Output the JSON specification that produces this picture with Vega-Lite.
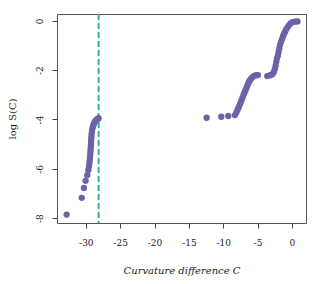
{
  "$schema": "https://vega.github.io/schema/vega-lite/v6.json",
  "width": 249,
  "height": 209,
  "autosize": {"type": "none"},
  "padding": {"left": 57, "top": 14, "right": 7, "bottom": 61},
  "background": "white",
  "config": {
    "view": {"stroke": "#555555", "strokeWidth": 1},
    "font": "DejaVu Serif"
  },
  "datasets": {
    "pts": [
      {"C": -32.8, "logS": -7.86}, {"C": -30.6, "logS": -7.18}, {"C": -30.28, "logS": -6.78},
      {"C": -30.03, "logS": -6.49}, {"C": -29.8, "logS": -6.26}, {"C": -29.65, "logS": -6.06},
      {"C": -29.55, "logS": -5.92}, {"C": -29.5, "logS": -5.8}, {"C": -29.45, "logS": -5.68},
      {"C": -29.4, "logS": -5.55}, {"C": -29.36, "logS": -5.42}, {"C": -29.33, "logS": -5.3},
      {"C": -29.3, "logS": -5.18}, {"C": -29.27, "logS": -5.05}, {"C": -29.25, "logS": -4.93},
      {"C": -29.22, "logS": -4.8}, {"C": -29.19, "logS": -4.68}, {"C": -29.15, "logS": -4.56},
      {"C": -29.1, "logS": -4.45}, {"C": -29.03, "logS": -4.35}, {"C": -28.95, "logS": -4.27},
      {"C": -28.85, "logS": -4.18}, {"C": -28.75, "logS": -4.12}, {"C": -28.6, "logS": -4.06},
      {"C": -28.45, "logS": -4.02}, {"C": -28.3, "logS": -3.98}, {"C": -28.15, "logS": -3.95},
      {"C": -12.42, "logS": -3.93}, {"C": -10.29, "logS": -3.89}, {"C": -9.27, "logS": -3.86},
      {"C": -8.3, "logS": -3.82}, {"C": -8.1, "logS": -3.72}, {"C": -7.95, "logS": -3.62},
      {"C": -7.8, "logS": -3.53}, {"C": -7.65, "logS": -3.43}, {"C": -7.5, "logS": -3.33},
      {"C": -7.35, "logS": -3.22}, {"C": -7.2, "logS": -3.12}, {"C": -7.05, "logS": -3.0},
      {"C": -6.9, "logS": -2.9}, {"C": -6.75, "logS": -2.8}, {"C": -6.6, "logS": -2.7},
      {"C": -6.45, "logS": -2.6}, {"C": -6.3, "logS": -2.5}, {"C": -6.15, "logS": -2.42},
      {"C": -6.0, "logS": -2.36}, {"C": -5.8, "logS": -2.3}, {"C": -5.6, "logS": -2.25},
      {"C": -5.4, "logS": -2.22}, {"C": -5.15, "logS": -2.2}, {"C": -4.95, "logS": -2.2},
      {"C": -3.6, "logS": -2.24}, {"C": -3.35, "logS": -2.22}, {"C": -3.1, "logS": -2.2},
      {"C": -2.85, "logS": -2.16}, {"C": -2.65, "logS": -2.08}, {"C": -2.5, "logS": -1.96},
      {"C": -2.38, "logS": -1.82}, {"C": -2.28, "logS": -1.66}, {"C": -2.18, "logS": -1.52},
      {"C": -2.05, "logS": -1.4}, {"C": -1.95, "logS": -1.26}, {"C": -1.85, "logS": -1.12},
      {"C": -1.75, "logS": -0.98}, {"C": -1.6, "logS": -0.86}, {"C": -1.45, "logS": -0.74},
      {"C": -1.3, "logS": -0.62}, {"C": -1.15, "logS": -0.52}, {"C": -1.0, "logS": -0.44},
      {"C": -0.85, "logS": -0.35}, {"C": -0.65, "logS": -0.26}, {"C": -0.45, "logS": -0.18},
      {"C": -0.2, "logS": -0.1}, {"C": 0.1, "logS": -0.05}, {"C": 0.45, "logS": -0.03},
      {"C": 0.8, "logS": -0.02}
    ],
    "cut": [{"C": -28.14}]
  },
  "layer": [
    {
      "data": {"name": "cut"},
      "mark": {"type": "rule", "color": "#2fb38e", "strokeWidth": 2, "strokeDash": [6, 3]},
      "encoding": {
        "x": {"field": "C", "type": "quantitative", "scale": {"domain": [-34.2, 2.04], "nice": false, "zero": false}}
      }
    },
    {
      "data": {"name": "pts"},
      "mark": {"type": "circle", "size": 40, "opacity": 1, "color": "#6a63a8"},
      "encoding": {
        "x": {
          "field": "C", "type": "quantitative",
          "scale": {"domain": [-34.2, 2.04], "nice": false, "zero": false},
          "axis": {
            "values": [-30, -25, -20, -15, -10, -5, 0],
            "title": "Curvature difference C",
            "titleFont": "DejaVu Serif", "titleFontStyle": "italic", "titleFontWeight": "normal",
            "titleFontSize": 10, "titleColor": "#222222", "titlePadding": 18,
            "labelFont": "DejaVu Serif", "labelFontSize": 9, "labelColor": "#222222", "labelPadding": 10,
            "domain": false, "grid": false, "tickSize": 5, "tickColor": "#444444",
            "labelExpr": "'' + datum.value"
          }
        },
        "y": {
          "field": "logS", "type": "quantitative",
          "scale": {"domain": [-8.2, 0.28], "nice": false, "zero": false},
          "axis": {
            "values": [-8, -6, -4, -2, 0],
            "title": "log S(C)",
            "titleFont": "DejaVu Serif", "titleFontWeight": "normal",
            "titleFontSize": 10, "titleColor": "#222222", "titlePadding": 18,
            "labelFont": "DejaVu Serif", "labelFontSize": 9, "labelColor": "#222222", "labelPadding": 8,
            "labelAngle": -90, "labelAlign": "center", "labelBaseline": "bottom",
            "domain": false, "grid": false, "tickSize": 5, "tickColor": "#444444",
            "labelExpr": "'' + datum.value"
          }
        }
      }
    }
  ]
}
